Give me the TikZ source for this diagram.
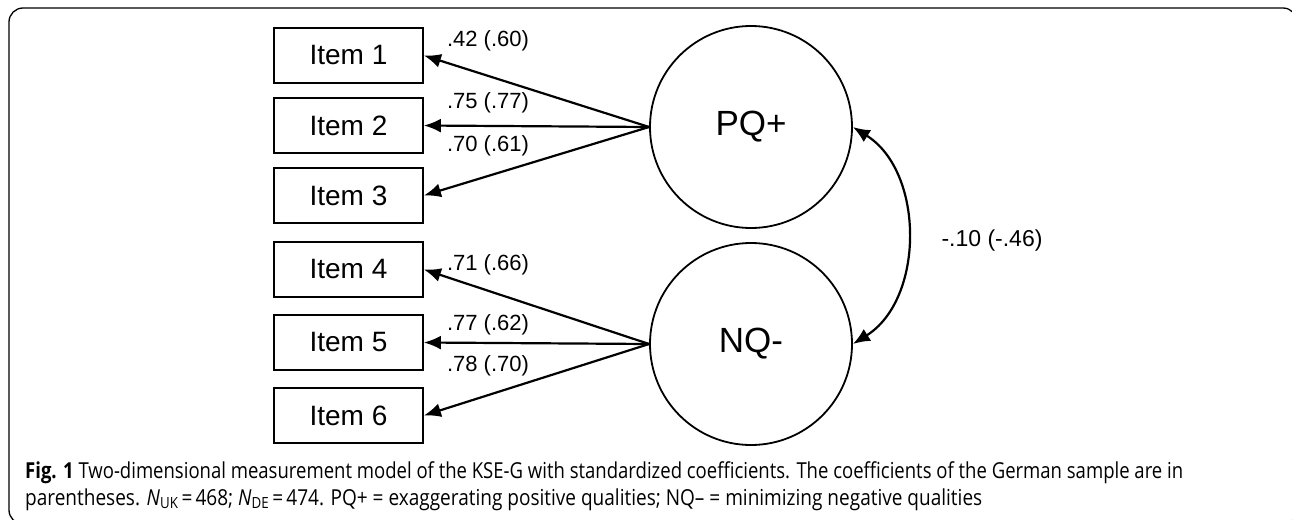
\documentclass[tikz,border=0pt]{standalone}
\usepackage{fontspec}
\setmainfont{Liberation Sans}
\newfontfamily\capfont{Open Sans}
\usetikzlibrary{arrows.meta}
\tikzset{
  itembox/.style={draw, line width=1.8pt, minimum width=149pt, minimum height=55pt, inner sep=0pt, font=\fontsize{28}{30}\selectfont},
  latent/.style={draw, circle, line width=1.8pt, minimum size=202pt, inner sep=0pt, font=\fontsize{35}{40}\selectfont},
  load/.style={line width=2.2pt, -{Latex[length=17pt,width=14pt]}},
  coef/.style={font=\fontsize{22}{24}\selectfont, inner sep=0pt},
  capline/.style={anchor=base west, inner sep=0pt, font=\capfont\fontsize{22}{26}\selectfont}
}
\begin{document}
\begin{tikzpicture}[x=1pt, y=-1pt]
\useasboundingbox (0,0) rectangle (1292,519);
\draw[line width=1.3pt, rounded corners=14pt] (9,8) rectangle (1297,524);

\node[itembox] (i1) at (348.5,55.5) {Item 1};
\node[itembox] (i2) at (348.5,125.5) {Item 2};
\node[itembox] (i3) at (348.5,195.5) {Item 3};
\node[itembox] (i4) at (348.5,269.5) {Item 4};
\node[itembox] (i5) at (348.5,342.5) {Item 5};
\node[itembox] (i6) at (348.5,415.5) {Item 6};

\node[latent] (pq) at (751,127) {PQ+};
\node[latent] (nq) at (751,344) {NQ-};

\draw[load] (pq.west) -- (i1.east);
\draw[load] (pq.west) -- (i2.east);
\draw[load] (pq.west) -- (i3.east);
\draw[load] (nq.west) -- (i4.east);
\draw[load] (nq.west) -- (i5.east);
\draw[load] (nq.west) -- (i6.east);

\node[coef] (c1) at (488,41) {.42 (.60)};
\node[coef] (c2) at (488,103) {.75 (.77)};
\node[coef] (c3) at (488,146) {.70 (.61)};
\node[coef] (c4) at (488,265) {.71 (.66)};
\node[coef] (c5) at (488,325) {.77 (.62)};
\node[coef] (c6) at (488,366) {.78 (.70)};

\draw[line width=2.2pt, {Latex[length=17pt,width=14pt]}-{Latex[length=17pt,width=14pt]}] (pq.east) to[bend left=58] (nq.east);
\node[coef, font=\fontsize{23}{25}\selectfont] (cr) at (992,241) {-.10 (-.46)};

\node[capline] (cap1) at (25,478) {\resizebox{1158pt}{\height}{\textbf{Fig. 1} Two-dimensional measurement model of the KSE-G with standardized coefficients. The coefficients of the German sample are in}};
\node[capline] (cap2) at (25,505) {\resizebox{957pt}{\height}{parentheses. \textit{N}\textsubscript{UK}\,=\,468; \textit{N}\textsubscript{DE}\,=\,474. PQ+ = exaggerating positive qualities; NQ– = minimizing negative qualities}};
\end{tikzpicture}
\end{document}
